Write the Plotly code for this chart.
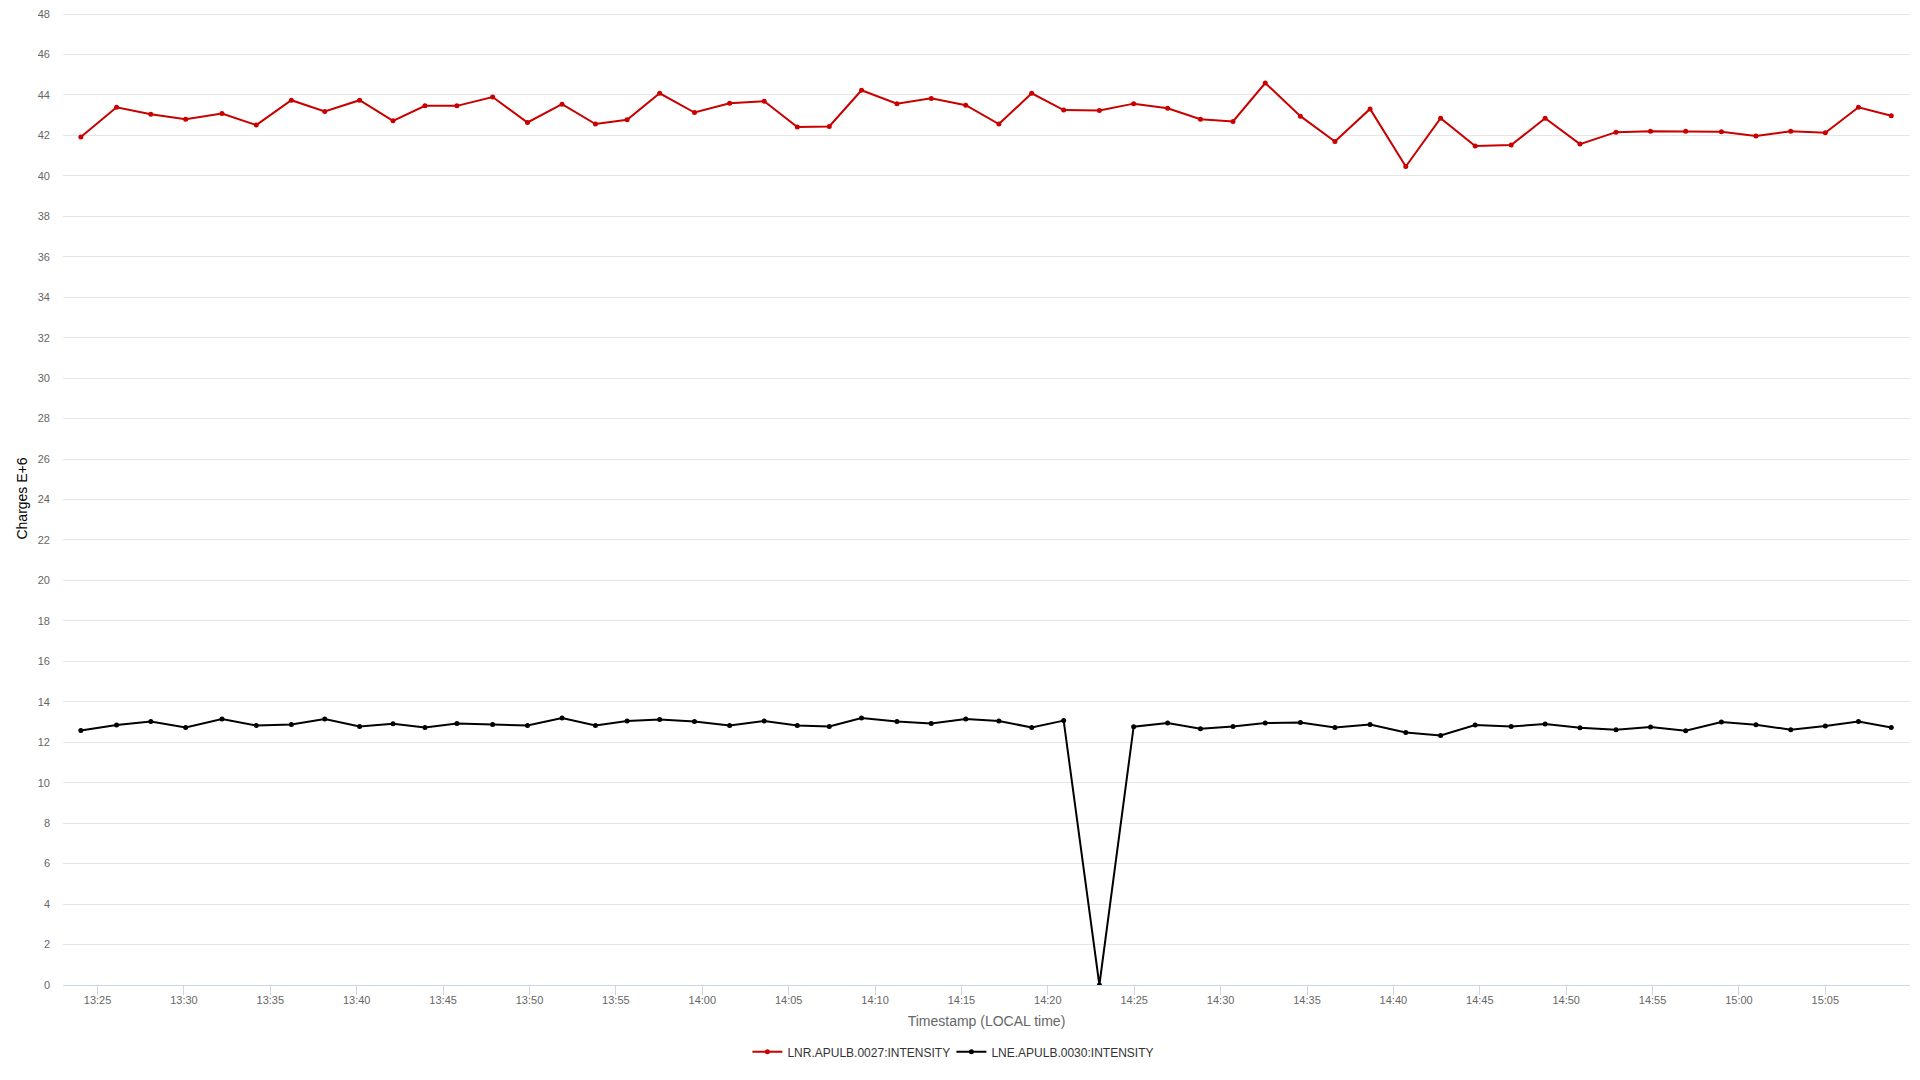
import plotly.graph_objects as go

DAY = "2024-01-01 "

times = [
    "13:24:02", "13:26:06", "13:28:05", "13:30:06", "13:32:12", "13:34:11",
    "13:36:13", "13:38:09", "13:40:10", "13:42:06", "13:43:57", "13:45:48",
    "13:47:52", "13:49:53", "13:51:53", "13:53:49", "13:55:39", "13:57:32",
    "13:59:33", "14:01:35", "14:03:35", "14:05:30", "14:07:21", "14:09:13",
    "14:11:16", "14:13:15", "14:15:15", "14:17:10", "14:19:04", "14:20:55",
    "14:22:59", "14:24:58", "14:26:56", "14:28:50", "14:30:43", "14:32:35",
    "14:34:37", "14:36:37", "14:38:39", "14:40:43", "14:42:44", "14:44:44",
    "14:46:49", "14:48:47", "14:50:48", "14:52:53", "14:54:53", "14:56:55",
    "14:58:59", "15:00:59", "15:03:00", "15:05:00", "15:06:55", "15:08:49",
]

lnr_0027 = [
    41.92, 43.39, 43.05, 42.80, 43.08, 42.51, 43.74, 43.18, 43.74, 42.72,
    43.46, 43.46, 43.90, 42.64, 43.54, 42.56, 42.77, 44.08, 43.13, 43.59,
    43.69, 42.41, 42.44, 44.23, 43.57, 43.83, 43.49, 42.56, 44.08, 43.25,
    43.23, 43.57, 43.34, 42.80, 42.69, 44.59, 42.95, 41.70, 43.31, 40.46,
    42.85, 41.48, 41.52, 42.85, 41.57, 42.16, 42.21, 42.20, 42.18, 41.97,
    42.21, 42.13, 43.39, 42.97,
]

lne_0030 = [
    12.58, 12.85, 13.03, 12.73, 13.15, 12.83, 12.88, 13.15, 12.78, 12.92,
    12.73, 12.93, 12.88, 12.83, 13.20, 12.83, 13.05, 13.13, 13.03, 12.83,
    13.05, 12.83, 12.78, 13.20, 13.03, 12.93, 13.15, 13.05, 12.73, 13.07,
    0.00, 12.77, 12.95, 12.67, 12.78, 12.95, 12.98, 12.73, 12.88, 12.48,
    12.33, 12.85, 12.78, 12.90, 12.72, 12.62, 12.75, 12.57, 13.00, 12.87,
    12.62, 12.80, 13.02, 12.73,
]

series_names = ["LNR.APULB.0027:INTENSITY", "LNE.APULB.0030:INTENSITY"]
series_colors = ["#c80000", "#000000"]

x = [DAY + t for t in times]

FONT = "Liberation Sans, Arial, sans-serif"

fig = go.Figure()
for name, vals, col in zip(series_names, [lnr_0027, lne_0030], series_colors):
    fig.add_trace(go.Scatter(
        x=x, y=vals, name=name, mode="lines+markers",
        line=dict(color=col, width=2),
        marker=dict(color=col, size=5, symbol="circle"),
    ))

fig.update_layout(
    width=1920, height=1080,
    margin=dict(l=63, r=10, t=8, b=95),
    paper_bgcolor="white", plot_bgcolor="white",
    font=dict(family=FONT, color="#333333"),
    showlegend=True,
    legend=dict(
        orientation="h", x=0.481, xanchor="center", y=-0.0687, yanchor="middle",
        font=dict(size=12, color="#333333", family=FONT),
        entrywidth=159, entrywidthmode="pixels",
    ),
    xaxis=dict(
        type="date",
        range=[DAY + "13:23:00", DAY + "15:09:54"],
        tickformat="%H:%M",
        tick0=DAY + "13:25:00",
        dtick=300000,
        showgrid=False,
        showline=True, linecolor="#ccd6eb", linewidth=1,
        ticks="outside", ticklen=9, tickcolor="#ccd6eb",
        ticklabelstandoff=-4,
        tickfont=dict(size=11, color="#666666", family=FONT),
        title=dict(text="Timestamp (LOCAL time)", standoff=10,
                   font=dict(size=14, color="#666666", family=FONT)),
        zeroline=False,
    ),
    yaxis=dict(
        range=[0, 48.1], dtick=2, tick0=0,
        showgrid=True, gridcolor="#e6e6e6", gridwidth=1,
        showline=False, zeroline=False,
        ticks="", ticklabelstandoff=12,
        tickfont=dict(size=11, color="#666666", family=FONT),
        title=dict(text="Charges E+6", standoff=6,
                   font=dict(size=14, color="#000000", family=FONT)),
    ),
)

fig.write_html(
    "out.html",
    config={"displayModeBar": False},
    post_script="document.body.style.margin='0px';",
)
